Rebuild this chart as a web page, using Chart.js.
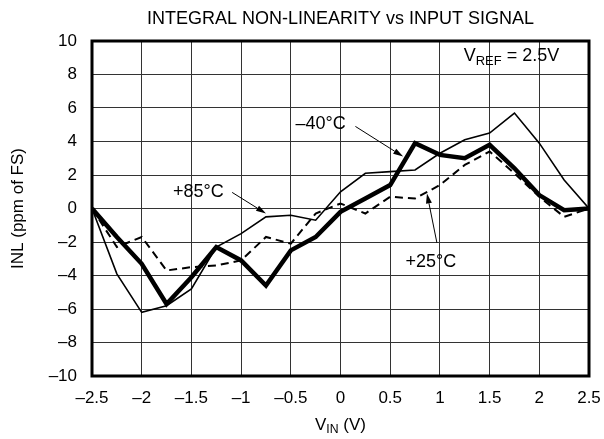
<!DOCTYPE html>
<html>
<head>
<meta charset="utf-8">
<script src="https://cdn.jsdelivr.net/npm/chart.js@4"></script>
<style>
  html, body { margin: 0; padding: 0; background: #fff; }
  #wrap { width: 604px; height: 439px; }
</style>
</head>
<body>
<div id="wrap"><canvas id="inl"></canvas></div>
<script>
// input voltage steps (V)
const vin = [-2.5, -2.25, -2, -1.75, -1.5, -1.25, -1, -0.75, -0.5, -0.25, 0,
             0.25, 0.5, 0.75, 1, 1.25, 1.5, 1.75, 2, 2.25, 2.5];

// INL in ppm of FS
const inlMinus40 = [0, -1.7, -3.3, -5.7, -4.1, -2.3, -3.1, -4.6, -2.5, -1.7, -0.2,
                    0.6, 1.4, 3.9, 3.2, 3.0, 3.8, 2.4, 0.8, -0.1, 0];
const inlPlus25 = [0, -2.3, -1.7, -3.7, -3.5, -3.4, -3.1, -1.7, -2.1, -0.3, 0.3,
                   -0.3, 0.7, 0.6, 1.4, 2.6, 3.4, 2.1, 0.7, -0.5, 0];
const inlPlus85 = [0, -3.9, -6.2, -5.8, -4.8, -2.3, -1.5, -0.5, -0.4, -0.7, 1.0,
                   2.1, 2.2, 2.3, 3.3, 4.1, 4.5, 5.7, 3.9, 1.7, 0];

const xTicks = { min: -2.5, max: 2.5, step: 0.5 };
const yTicks = { min: -10, max: 10, step: 2 };

// curve labels: text position and arrow (tail -> head), all in data units
const curveLabels = [
  { text: '\u201340\u00b0C', at: [-0.2, 5.05], tail: [0.15, 4.9], head: [0.63, 3.1] },
  { text: '+85\u00b0C', at: [-1.43, 1.0], tail: [-1.09, 0.96], head: [-0.75, -0.3] },
  { text: '+25\u00b0C', at: [0.91, -3.2], tail: [0.97, -2.05], head: [0.87, 0.9] },
];

const FONT = '"Liberation Sans", Arial, sans-serif';
const toXY = ys => vin.map((x, i) => ({ x, y: ys[i] }));
const dash = v => String(v).replace('-', '\u2013');

function drawSub(ctx, base, sub, rest, x, y, size, align) {
  ctx.save();
  ctx.textBaseline = 'middle';
  ctx.font = `${size}px ${FONT}`;
  const wb = ctx.measureText(base).width;
  const wr = ctx.measureText(rest).width;
  ctx.font = `${size * 0.72}px ${FONT}`;
  const ws = ctx.measureText(sub).width;
  const total = wb + ws + wr;
  let x0 = align === 'center' ? x - total / 2 : x;
  ctx.textAlign = 'left';
  ctx.font = `${size}px ${FONT}`;
  ctx.fillText(base, x0, y);
  ctx.font = `${size * 0.72}px ${FONT}`;
  ctx.fillText(sub, x0 + wb, y + size * 0.3);
  ctx.font = `${size}px ${FONT}`;
  ctx.fillText(rest, x0 + wb + ws, y);
  ctx.restore();
}

function arrow(ctx, x1, y1, x2, y2) {
  const a = Math.atan2(y2 - y1, x2 - x1);
  const len = 10, half = 3;
  ctx.beginPath();
  ctx.moveTo(x1, y1);
  ctx.lineTo(x2 - Math.cos(a) * len, y2 - Math.sin(a) * len);
  ctx.stroke();
  ctx.beginPath();
  ctx.moveTo(x2, y2);
  ctx.lineTo(x2 - Math.cos(a) * len - Math.sin(a) * half, y2 - Math.sin(a) * len + Math.cos(a) * half);
  ctx.lineTo(x2 - Math.cos(a) * len + Math.sin(a) * half, y2 - Math.sin(a) * len - Math.cos(a) * half);
  ctx.closePath();
  ctx.fill();
}

const decor = {
  id: 'decor',
  afterDraw(chart) {
    const { ctx, chartArea: a, scales: { x, y } } = chart;
    ctx.save();
    ctx.fillStyle = '#000';
    ctx.strokeStyle = '#000';

    // heavy frame
    ctx.lineWidth = 3;
    ctx.strokeRect(a.left, a.top, a.right - a.left, a.bottom - a.top);

    // title
    ctx.font = `18px ${FONT}`;
    ctx.textAlign = 'center';
    ctx.textBaseline = 'middle';
    ctx.fillText('INTEGRAL NON-LINEARITY vs INPUT SIGNAL', (a.left + a.right) / 2, 19);

    // y title
    ctx.save();
    ctx.translate(18, (a.top + a.bottom) / 2);
    ctx.rotate(-Math.PI / 2);
    ctx.font = `17px ${FONT}`;
    ctx.fillText('INL (ppm of FS)', 0, 0);
    ctx.restore();

    // x title
    drawSub(ctx, 'V', 'IN', ' (V)', (a.left + a.right) / 2, 425, 17, 'center');

    // reference note
    drawSub(ctx, 'V', 'REF', ' = 2.5V', x.getPixelForValue(1.24), y.getPixelForValue(9.1), 18, 'left');

    // curve labels with arrows
    ctx.lineWidth = 1;
    curveLabels.forEach(l => {
      ctx.font = `18px ${FONT}`;
      ctx.textAlign = 'center';
      ctx.textBaseline = 'middle';
      ctx.fillText(l.text, x.getPixelForValue(l.at[0]), y.getPixelForValue(l.at[1]));
      arrow(ctx, x.getPixelForValue(l.tail[0]), y.getPixelForValue(l.tail[1]),
                 x.getPixelForValue(l.head[0]), y.getPixelForValue(l.head[1]));
    });
    ctx.restore();
  }
};

new Chart(document.getElementById('inl'), {
  type: 'line',
  data: {
    datasets: [
      { label: '+85\u00b0C', data: toXY(inlPlus85), borderColor: '#000', borderWidth: 1.6 },
      { label: '+25\u00b0C', data: toXY(inlPlus25), borderColor: '#000', borderWidth: 2, borderDash: [8, 5] },
      { label: '\u201340\u00b0C', data: toXY(inlMinus40), borderColor: '#000', borderWidth: 4.5 },
    ],
  },
  options: {
    responsive: true,
    maintainAspectRatio: false,
    animation: false,
    elements: { point: { radius: 0 }, line: { tension: 0, borderJoinStyle: 'miter' } },
    layout: { padding: { top: 41, right: 15, left: 0, bottom: 0 } },
    plugins: { legend: { display: false }, tooltip: { enabled: false } },
    scales: {
      x: {
        type: 'linear',
        min: xTicks.min, max: xTicks.max,
        afterFit: s => { s.height = 63; s.paddingLeft = 0; s.paddingRight = 0; },
        grid: { color: '#333', lineWidth: 1, drawTicks: false },
        border: { display: false },
        ticks: {
          stepSize: xTicks.step, padding: 12, color: '#000',
          font: { family: FONT, size: 17 },
          callback: v => dash(v),
        },
      },
      y: {
        min: yTicks.min, max: yTicks.max,
        afterFit: s => { s.width = 92; s.paddingTop = 0; s.paddingBottom = 0; },
        grid: { color: '#333', lineWidth: 1, drawTicks: false },
        border: { display: false },
        ticks: {
          stepSize: yTicks.step, padding: 15, color: '#000',
          font: { family: FONT, size: 17 },
          callback: v => dash(v),
        },
      },
    },
  },
  plugins: [decor],
});
</script>
</body>
</html>
